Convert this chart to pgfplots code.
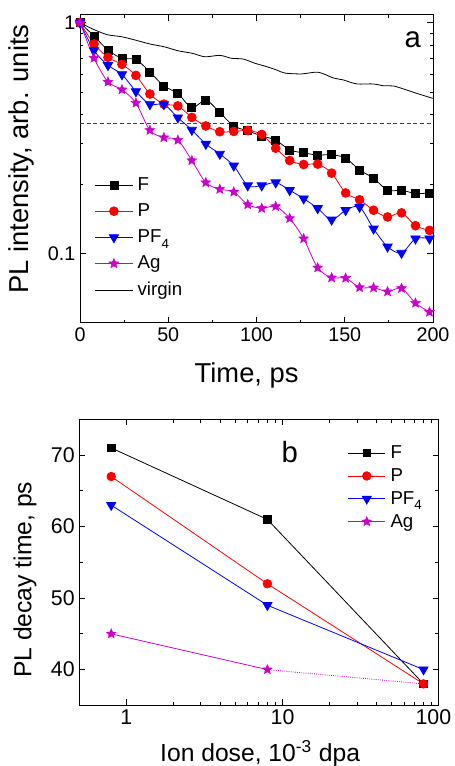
\documentclass[border=0pt]{standalone}
\usepackage{pgfplots}
\pgfplotsset{compat=1.18}
\usepackage{pgfplotstable}
\usepackage{fontspec}
\setmainfont{Liberation Sans}
\definecolor{mymag}{rgb}{0.8,0,0.8}
\pgfdeclareplotmark{fstar}{%
  \pgfpathmoveto{\pgfpointpolar{90}{\pgfplotmarksize}}%
  \pgfpathlineto{\pgfpointpolar{126}{0.45\pgfplotmarksize}}%
  \pgfpathlineto{\pgfpointpolar{162}{\pgfplotmarksize}}%
  \pgfpathlineto{\pgfpointpolar{198}{0.45\pgfplotmarksize}}%
  \pgfpathlineto{\pgfpointpolar{234}{\pgfplotmarksize}}%
  \pgfpathlineto{\pgfpointpolar{270}{0.45\pgfplotmarksize}}%
  \pgfpathlineto{\pgfpointpolar{306}{\pgfplotmarksize}}%
  \pgfpathlineto{\pgfpointpolar{342}{0.45\pgfplotmarksize}}%
  \pgfpathlineto{\pgfpointpolar{18}{\pgfplotmarksize}}%
  \pgfpathlineto{\pgfpointpolar{54}{0.45\pgfplotmarksize}}%
  \pgfpathclose
  \pgfusepathqfillstroke
}
\pgfplotstableread{
x F P PF4 Ag
0 1.0 1.0 1.0 1.0
7.92 0.876 0.809 0.759 0.703
15.84 0.761 0.708 0.654 0.554
23.76 0.701 0.660 0.597 0.513
31.68 0.692 0.591 0.504 0.449
39.6 0.612 0.491 0.443 0.342
47.52 0.532 0.444 0.443 0.318
55.44 0.494 0.436 0.388 0.310
63.36 0.428 0.389 0.343 0.253
71.28 0.462 0.357 0.298 0.203
79.2 0.408 0.337 0.270 0.190
87.12 0.357 0.338 0.240 0.185
95.04 0.340 0.341 0.197 0.163
102.96 0.323 0.328 0.197 0.157
110.88 0.310 0.286 0.203 0.160
118.8 0.281 0.253 0.188 0.142
126.72 0.273 0.243 0.173 0.116
134.64 0.267 0.244 0.157 0.0868
142.56 0.268 0.223 0.140 0.0786
150.48 0.259 0.183 0.154 0.0783
158.4 0.230 0.171 0.159 0.0713
166.32 0.212 0.154 0.128 0.0711
174.24 0.188 0.144 0.107 0.0684
182.16 0.188 0.150 0.1005 0.0707
190.08 0.182 0.132 0.116 0.0610
198.0 0.183 0.126 0.116 0.0558
}\decaydata
\pgfplotstableread{
x y
0 1.0
7.2 0.939
15.5 0.887
23.4 0.870
31.3 0.841
39.5 0.809
47.6 0.787
55.5 0.756
63.6 0.737
70.8 0.712
79.3 0.722
85.9 0.701
92.5 0.696
99.2 0.667
105.8 0.645
111.4 0.624
116.1 0.605
125.6 0.600
135.0 0.610
143.6 0.576
149.2 0.565
156.8 0.543
166.2 0.543
171.9 0.533
177.5 0.532
185.1 0.511
190.8 0.494
200 0.470
}\virgindata
\newcommand{\sub}[1]{\raisebox{-0.55ex}{\fontsize{10}{10}\selectfont #1}}
\pgfplotsset{
  every axis/.append style={
    scale only axis,
    axis line style={line width=0.75pt},
    tick align=inside,
    major tick length=4.5pt,
    minor tick length=2.5pt,
    every tick/.style={line width=0.6pt, black},
    /pgf/number format/assume math mode=true,
    legend cell align=left,
    legend image code/.code={\draw[mark repeat=2,mark phase=2] plot coordinates {(0pt,0pt) (14pt,0pt) (28pt,0pt)};},
  },
}
\begin{document}
\begin{tikzpicture}
\useasboundingbox (0,0) rectangle (340.5pt,574.5pt);
% panel a
\begin{axis}[
  at={(60pt,332.25pt)}, anchor=south west,
  width=264.75pt, height=231pt,
  tick label style={font=\fontsize{14.8}{17}\selectfont},
  label style={font=\fontsize{20.5}{24}\selectfont},
  ymode=log, xmin=0, xmax=200, ymin=0.05, ymax=1.08,
  xtick={0,50,100,150,200}, minor x tick num=1,
  ytick={0.1,1}, yticklabels={0.1,1},
  xlabel={Time, ps},
  ylabel={PL intensity, arb. units},
  xlabel style={at={(axis description cs:0.472,-0.169)}, anchor=center},
  ylabel style={at={(axis description cs:-0.165,0.532)}, anchor=center},
  legend style={draw=none, fill=none, at={(axis description cs:0.03,0.488)}, anchor=north west,
    font=\fontsize{14}{16.5}\selectfont, row sep=5.5pt, nodes={inner sep=1.5pt},
    /tikz/every odd column/.append style={column sep=2pt}},
]
\addplot[densely dashed, line width=0.6pt, black!75, forget plot] coordinates {(0,0.3679) (200,0.3679)};
\addplot[black, line width=0.6pt, smooth, mark=square*, mark size=3pt, mark options={solid}] table[x=x,y=F] {\decaydata};
\addlegendentry{F}
\addplot[red, line width=0.6pt, smooth, mark=*, mark size=3.3pt] table[x=x,y=P] {\decaydata};
\addlegendentry{P}
\addplot[blue, line width=0.6pt, smooth, mark=triangle*, mark size=4pt, mark options={rotate=180}] table[x=x,y=PF4] {\decaydata};
\addlegendentry{PF\sub{4}}
\addplot[mymag, line width=0.6pt, smooth, mark=fstar, mark size=3.8pt, mark options={line width=0.4pt}] table[x=x,y=Ag] {\decaydata};
\addlegendentry{Ag}
\addplot[black, line width=0.6pt, smooth, no marks] table[x=x,y=y] {\virgindata};
\addlegendentry{virgin}
\node[font=\fontsize{22}{26}\selectfont] at (axis description cs:0.943,0.919) {a};
\end{axis}
% panel b
\begin{axis}[
  at={(59.5pt,45.5pt)}, anchor=south west,
  width=269.5pt, height=214.5pt,
  tick label style={font=\fontsize{16}{18}\selectfont},
  label style={font=\fontsize{18.5}{22}\selectfont},
  xmode=log, xmin=0.5, xmax=100, ymin=35, ymax=75,
  xtick={1,10,100}, xticklabels={1,10,\hspace*{-8pt}100},
  ytick={40,50,60,70}, minor y tick num=1,
  xlabel={Ion dose, 10\textsuperscript{-3} dpa},
  ylabel={PL decay time, ps},
  xlabel style={at={(axis description cs:0.503,-0.168)}, anchor=center},
  ylabel style={at={(axis description cs:-0.151,0.439)}, anchor=center},
  legend style={draw=none, fill=none, at={(axis description cs:0.735,0.925)}, anchor=north west,
    font=\fontsize{14}{16}\selectfont, row sep=3pt, nodes={inner sep=1.5pt},
    /tikz/every odd column/.append style={column sep=2pt}},
]
\addplot[mymag, line width=0.6pt, densely dotted, no marks, forget plot] coordinates {(8,40) (80,38)};
\addplot[black, line width=0.6pt, mark=square*, mark size=2.8pt] coordinates {(0.8,71) (8,61) (80,38)};
\addlegendentry{F}
\addplot[red, line width=0.6pt, mark=*, mark size=3.2pt] coordinates {(0.8,67) (8,52) (80,38)};
\addlegendentry{P}
\addplot[blue, line width=0.6pt, mark=triangle*, mark size=3.9pt, mark options={rotate=180}] coordinates {(0.8,63) (8,49) (80,40)};
\addlegendentry{PF\sub{4}}
\addplot[mymag, line width=0.6pt, mark=fstar, mark size=3.7pt, mark options={line width=0.4pt}] coordinates {(0.8,45) (8,40)};
\addlegendentry{Ag}
\node[font=\fontsize{22}{26}\selectfont] at (axis description cs:0.586,0.887) {b};
\end{axis}
\end{tikzpicture}
\end{document}
